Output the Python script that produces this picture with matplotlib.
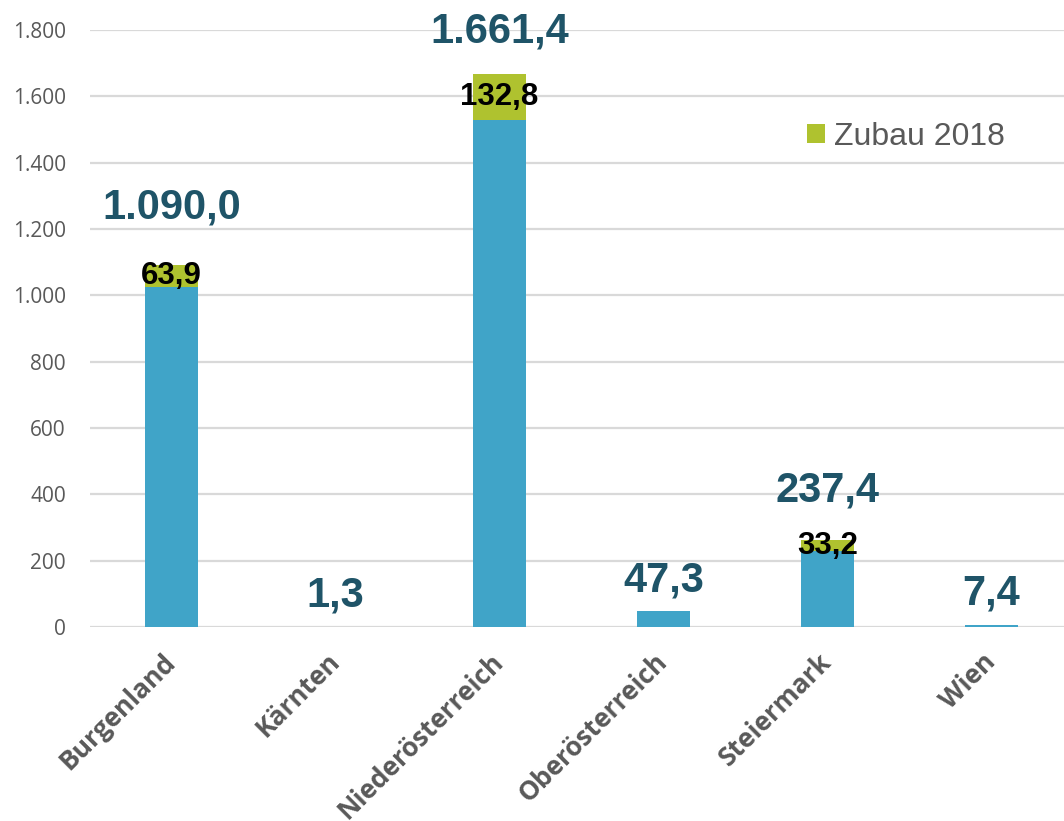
import matplotlib.pyplot as plt
import numpy as np

# ================== data =================
regions = ['Burgenland', 'Kärnten', 'Niederösterreich', 'Oberösterreich', 'Steiermark', 'Wien']
bestand = [1026.1, 1.3, 1528.6, 47.3, 229.0, 7.4]
zubau_2018 = [63.9, 0.0, 140.0, 0.0, 33.2, 0.0]
total_labels = ['1.090,0', '1,3', '1.661,4', '47,3', '237,4', '7,4']
zubau_labels = ['63,9', '', '132,8', '', '33,2', '']
y_ticks = [0, 200, 400, 600, 800, 1000, 1200, 1400, 1600, 1800]

# ================== style =================
blue = '#40A4C8'
green = '#AFC22F'
dark = '#1F5468'
grey = '#595959'
label_pad = [27, 8, 16, 8, 21, 8]  # gap (pt) between bar top and total label

fig = plt.figure(figsize=(10.64, 8.21), dpi=100)
ax = fig.add_axes([89.5 / 1064, 0.2363, 984 / 1064, 0.7272])

x = np.arange(len(regions))
bottom = np.array(bestand)
top = bottom + np.array(zubau_2018)
ax.bar(x, bestand, width=0.32, color=blue, zorder=2)
ax.bar(x, zubau_2018, width=0.32, bottom=bestand, color=green, zorder=2, label='Zubau 2018')

for i in range(len(regions)):
    ax.annotate(total_labels[i], (x[i], top[i]), xytext=(0, label_pad[i]), textcoords='offset points',
                ha='center', va='bottom', fontsize=30, fontweight='bold', color=dark,
                family='Liberation Sans', annotation_clip=False)
    if zubau_labels[i]:
        ax.text(x[i], bottom[i] + zubau_2018[i] / 2, zubau_labels[i], ha='center', va='center',
                fontsize=22.5, fontweight='bold', color='black', family='Liberation Sans', zorder=3)

ax.set_xlim(-0.5, len(regions) - 0.5)
ax.set_ylim(0, 1800)
ax.set_yticks(y_ticks)
ax.set_yticklabels([f'{v:,}'.replace(',', '.') for v in y_ticks], family='Open Sans',
                   fontsize=15, color=grey)
ax.set_xticks(x)
ax.set_xticklabels(regions, rotation=45, ha='right', va='center', rotation_mode='anchor',
                   family='Open Sans', fontweight='bold', fontsize=19, color=grey)
ax.tick_params(axis='both', length=0)
ax.tick_params(axis='y', pad=17)
ax.tick_params(axis='x', pad=22)
ax.grid(axis='y', color='#D9D9D9', linewidth=1.6, zorder=0)
ax.set_axisbelow(True)
for s in ax.spines.values():
    s.set_visible(False)

leg = ax.legend(loc='center right', bbox_to_anchor=(1005 / 1064, 1 - 137 / 821),
                bbox_transform=fig.transFigure, frameon=False, borderpad=0, borderaxespad=0,
                prop={'family': 'Liberation Sans', 'size': 23}, handlelength=0.55, handleheight=0.55,
                handletextpad=0.3)
for t in leg.get_texts():
    t.set_color(grey)

fig.savefig('out.png', dpi=100)
